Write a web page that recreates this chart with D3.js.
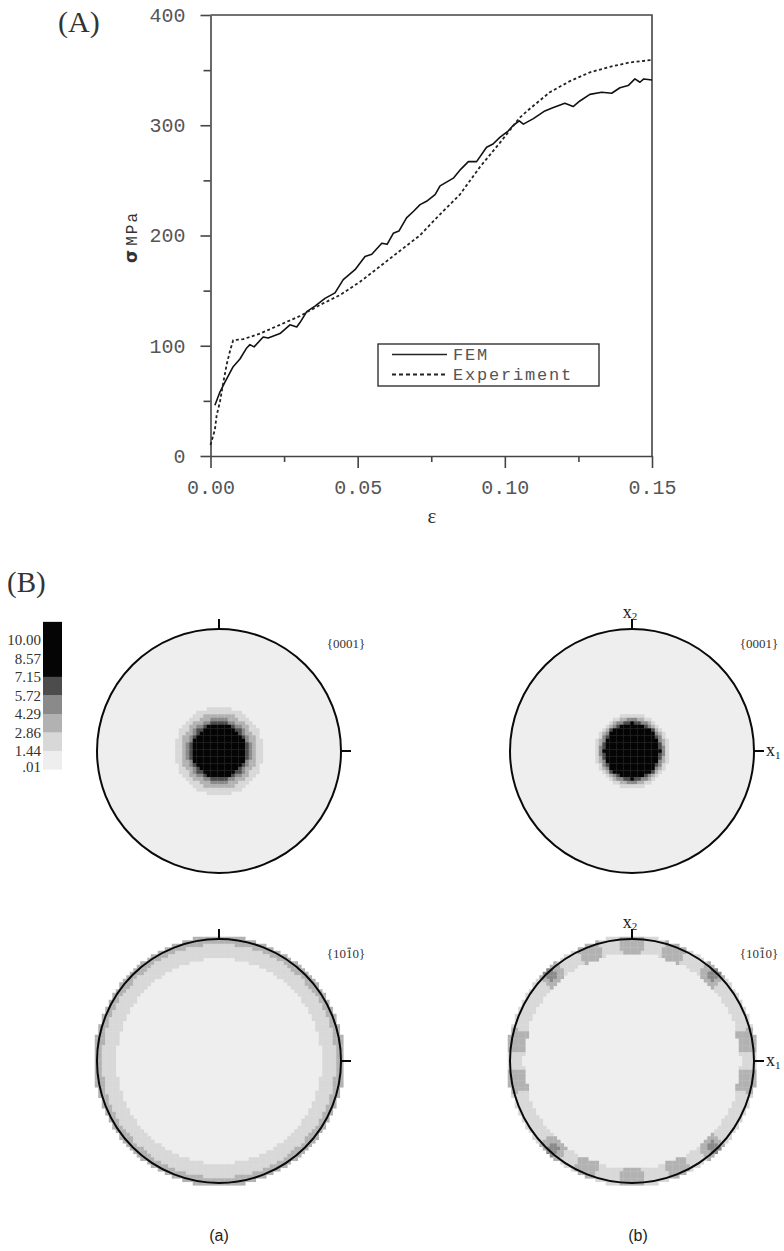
<!DOCTYPE html>
<html><head><meta charset="utf-8">
<script src="https://cdn.jsdelivr.net/npm/d3@7"></script>
<style>body{margin:0;background:#fff} svg{display:block}</style>
</head><body><svg id="c" width="784" height="1251"></svg>
<script>
// ---------- (A) stress-strain data ----------
const femStrain = [0.0015,0.0032,0.0049,0.0077,0.0100,0.0123,0.0134,0.0148,0.0179,0.0196,0.0236,0.0270,0.0293,0.0304,0.0327,0.0355,0.0389,0.0423,0.0451,0.0491,0.0525,0.0548,0.0582,0.0600,0.0621,0.0640,0.0666,0.0690,0.0712,0.0734,0.0763,0.0780,0.0825,0.0850,0.0876,0.0904,0.0938,0.0960,0.0983,0.1012,0.1029,0.1049,0.1063,0.1097,0.1136,0.1165,0.1204,0.1232,0.1255,0.1289,0.1329,0.1363,0.1391,0.1419,0.1442,0.1459,0.1472,0.1500];
const femStress = [46,58,67,81,88,98,101,99,108,107,111,119,117,121,131,136,143,148,160,169,181,183,193,192,202,204,216,222,228,231,237,245,252,260,267,267,280,283,289,295,300,304,301,306,313,316,320,317,322,328,330,329,334,336,342,339,342,341];
const expStrain = [0.0000,0.0015,0.0021,0.0032,0.0043,0.0055,0.0066,0.0077,0.0111,0.0168,0.0236,0.0304,0.0372,0.0440,0.0508,0.0576,0.0643,0.0711,0.0779,0.0847,0.0915,0.0983,0.1051,0.1085,0.1153,0.1221,0.1289,0.1357,0.1425,0.1493,0.1500];
const expStress = [10,24,37,49,66,83,95,105,106,111,119,127,137,146,158,172,186,200,219,237,262,284,307,315,330,340,348,353,357,359,359];
const yTickValues = [0,100,200,300,400];
const yMinorValues = [50,150,250,350];
const xTickValues = [0,0.05,0.10,0.15];
const xMinorValues = [0.025,0.075,0.125];
const legendLabels = ["FEM","Experiment"];

// ---------- (B) pole figure data ----------
const cbLabels = ["10.00","8.57","7.15","5.72","4.29","2.86","1.44",".01"];
const cbValues = [10.00,8.57,7.15,5.72,4.29,2.86,1.44,0.01];
const cbBounds = [0,1.44,2.86,4.29,5.72,7.15,11.4];
const levelThresholds = [1.44,2.86,4.29,5.72,7.15];
const levelGreys = ["#eeeeee","#d8d8d8","#b2b2b2","#8a8a8a","#4c4c4c","#050505"];
// radial profiles: breaks (fraction of radius) and intensity values
const pfA0001Breaks = [0.22,0.245,0.27,0.31,0.36];
const pfA0001Values = [11,6.5,5,3.5,2,0.8];
const pfB0001Breaks = [0.23,0.245,0.26,0.28,0.30];
const pfB0001Values = [11,6.5,5,3.5,2,0.8];
const pfA1010Breaks = [0.84,0.955];
const pfA1010Values = [0.8,2,3.5];
const pfB1010Breaks = [0.89];
const pfB1010Values = [0.8,2];
const pfB1010SpotAngles = [-10,10,47,69,90,111,133,170,190,228,247,270,293,313];
const pfB1010SpotValues = [3.5,3.5,5,3.5,3.5,3.5,5,3.5,3.5,5,3.5,3.5,3.5,5];
const poleTitles = ["{0001}","{0001}","{1010}","{1010}"];
const columnLabels = ["(a)","(b)"];

const svg = d3.select("#c");
svg.append("rect").attr("width",784).attr("height",1251).attr("fill","#fff");

// ================= (A) =================
const x = d3.scaleLinear().domain([0,0.15]).range([210.5,652]);
const y = d3.scaleLinear().domain([0,400]).range([456,15]);
const mono = "'Liberation Mono','DejaVu Sans Mono',monospace";
const serif = "'Liberation Serif','DejaVu Serif',serif";
const axisCol = "#444";

function styleAxis(g){
  g.selectAll(".domain").attr("stroke",axisCol).attr("stroke-width",1.6);
  g.selectAll(".tick line").attr("stroke",axisCol).attr("stroke-width",1.6);
  g.selectAll("text").attr("font-family",mono).attr("font-size",20).attr("fill","#555");
}
const gy = svg.append("g").attr("transform","translate(210.5,0)")
  .call(d3.axisLeft(y).tickValues(yTickValues).tickSize(10).tickSizeOuter(0).tickPadding(15).tickFormat(d3.format("d")));
styleAxis(gy);
const gyMin = svg.append("g").attr("transform","translate(210.5,0)")
  .call(d3.axisLeft(y).tickValues(yMinorValues).tickSize(7).tickFormat(""));
gyMin.select(".domain").remove(); styleAxis(gyMin);

const gx = svg.append("g").attr("transform","translate(0,456)")
  .call(d3.axisBottom(x).tickValues(xTickValues).tickSize(12).tickSizeOuter(0).tickPadding(12).tickFormat(d3.format(".2f")));
styleAxis(gx);
const gxMin = svg.append("g").attr("transform","translate(0,456)")
  .call(d3.axisBottom(x).tickValues(xMinorValues).tickSize(6).tickFormat(""));
gxMin.select(".domain").remove(); styleAxis(gxMin);

// top & right frame
svg.append("path").attr("d",`M${x(0)},${y(400)}H${x(0.15)}V${y(0)}`)
  .attr("fill","none").attr("stroke",axisCol).attr("stroke-width",1.6);

// curves
const line = d3.line().x(d=>x(d[0])).y(d=>y(d[1]));
svg.append("path").datum(d3.zip(femStrain,femStress)).attr("d",line)
  .attr("fill","none").attr("stroke","#111").attr("stroke-width",1.6).attr("stroke-linejoin","round");
svg.append("path").datum(d3.zip(expStrain,expStress)).attr("d",line)
  .attr("fill","none").attr("stroke","#222").attr("stroke-width",1.8).attr("stroke-dasharray","3,2.5");

// legend
const lg = svg.append("g");
lg.append("rect").attr("x",378).attr("y",344).attr("width",221).attr("height",42)
  .attr("fill","#fff").attr("stroke","#333").attr("stroke-width",1.4);
legendLabels.forEach((lab,i)=>{
  const yy = 354.5 + i*20;
  lg.append("line").attr("x1",392).attr("x2",447).attr("y1",yy).attr("y2",yy)
    .attr("stroke","#222").attr("stroke-width",i?1.8:1.6).attr("stroke-dasharray",i?"4,3":null);
  lg.append("text").attr("x",453).attr("y",yy).attr("dy","0.35em").text(lab)
    .attr("font-family",mono).attr("font-size",17).attr("letter-spacing",1.8).attr("fill","#555");
});

// axis titles
svg.append("text").attr("x",432).attr("y",523).attr("text-anchor","middle")
  .attr("font-family",serif).attr("font-size",21).attr("fill","#333").text("ε");
const yl = svg.append("text").attr("transform","translate(137,237) rotate(-90)")
  .attr("text-anchor","middle").attr("fill","#333");
yl.append("tspan").attr("font-family","'DejaVu Sans',sans-serif").attr("font-size",17).attr("font-weight","bold").text("σ");
yl.append("tspan").attr("font-family",mono).attr("font-size",16).attr("letter-spacing",2).attr("dx",4).text("MPa");

svg.append("text").attr("x",58).attr("y",32).attr("font-family",serif).attr("font-size",30).attr("fill","#333").text("(A)");
svg.append("text").attr("x",7).attr("y",592).attr("font-family",serif).attr("font-size",29).attr("fill","#333").text("(B)");

// ================= (B) =================
const color = d3.scaleThreshold().domain(levelThresholds).range(levelGreys);

// colour bar
const cbY = d3.scaleLinear().domain([0,10]).range([769.6,640]);
const cb = svg.append("g");
cb.selectAll("rect").data(d3.pairs(cbBounds)).join("rect")
  .attr("x",43).attr("width",19)
  .attr("y",d=>cbY(d[1])).attr("height",d=>cbY(d[0])-cbY(d[1]))
  .attr("fill",d=>color((d[0]+d[1])/2));
cb.selectAll("text").data(cbValues).join("text")
  .attr("x",41).attr("y",(d,i)=>cbY(d)+(i===cbValues.length-1?-3:0)).attr("dy","0.35em")
  .attr("text-anchor","end").attr("font-family",serif).attr("font-size",15).attr("fill","#333")
  .text((d,i)=>cbLabels[i]);

const R = 122, cell = 3.5;
const figs = [
  {cx:219, cy:751, breaks:pfA0001Breaks, values:pfA0001Values, title:0, axisLabels:false},
  {cx:632, cy:751, breaks:pfB0001Breaks, values:pfB0001Values, title:1, axisLabels:true},
  {cx:219, cy:1061, breaks:pfA1010Breaks, values:pfA1010Values, title:2, axisLabels:false},
  {cx:632, cy:1061, breaks:pfB1010Breaks, values:pfB1010Values, title:3, axisLabels:true,
   spots:d3.zip(pfB1010SpotAngles,pfB1010SpotValues)}
];

function cellsFor(f){
  const n = Math.ceil((R+6)/cell);
  const out = [];
  for(let i=-n;i<=n;i++) for(let j=-n;j<=n;j++){
    const dx=i*cell, dy=j*cell, r=Math.hypot(dx,dy)/R;
    if(r>1.025) continue;
    let v = f.values[d3.bisectRight(f.breaks,r)];
    if(f.spots && r>=0.88){
      const ang = Math.atan2(-dy,dx)*180/Math.PI;
      f.spots.forEach(([a,sv])=>{
        let d = Math.abs(((ang-a)%360+540)%360-180);
        if(d<=5.5) v = Math.max(v, d<=2.5 && r>=0.93 ? sv : 3.5);
      });
    }
    if(v>=levelThresholds[0]) out.push({x:f.cx+dx,y:f.cy+dy,v});
  }
  return out;
}

figs.forEach(f=>{
  const g = svg.append("g");
  g.append("circle").attr("cx",f.cx).attr("cy",f.cy).attr("r",R).attr("fill",color(0.8));
  g.selectAll("rect").data(cellsFor(f)).join("rect")
    .attr("x",d=>d.x-cell/2).attr("y",d=>d.y-cell/2)
    .attr("width",cell+0.3).attr("height",cell+0.3)
    .attr("fill",d=>color(d.v));
  g.append("circle").attr("cx",f.cx).attr("cy",f.cy).attr("r",R)
    .attr("fill","none").attr("stroke","#0a0a0a").attr("stroke-width",2);
  g.append("line").attr("x1",f.cx).attr("x2",f.cx).attr("y1",f.cy-R-10).attr("y2",f.cy-R)
    .attr("stroke","#0a0a0a").attr("stroke-width",2);
  g.append("line").attr("x1",f.cx+R).attr("x2",f.cx+R+10).attr("y1",f.cy).attr("y2",f.cy)
    .attr("stroke","#0a0a0a").attr("stroke-width",2);
  // title
  const t = g.append("text").attr("x",f.cx+127).attr("y",f.cy-103).attr("text-anchor","middle")
    .attr("font-family",serif).attr("font-size",13).attr("fill","#333").text(poleTitles[f.title]);
  if(f.title>=2){
    const ext = t.node().getExtentOfChar(3);
    g.append("line").attr("x1",ext.x+1.5).attr("x2",ext.x+ext.width-1.5)
      .attr("y1",ext.y+2.2).attr("y2",ext.y+2.2).attr("stroke","#333").attr("stroke-width",1);
  }
  if(f.axisLabels){
    const t2 = g.append("text").attr("x",f.cx-2).attr("y",f.cy-R-11).attr("text-anchor","middle")
      .attr("font-family",serif).attr("fill","#222");
    t2.append("tspan").attr("font-size",18).text("x");
    t2.append("tspan").attr("font-size",11).attr("dy",2).text("2");
    const t1 = g.append("text").attr("x",f.cx+R+12).attr("y",f.cy+5)
      .attr("font-family",serif).attr("fill","#222");
    t1.append("tspan").attr("font-size",18).text("x");
    t1.append("tspan").attr("font-size",11).attr("dy",3).text("1");
  }
});

columnLabels.forEach((lab,i)=>{
  svg.append("text").attr("x",i?638:219).attr("y",1241).attr("text-anchor","middle")
    .attr("font-family","'Liberation Sans',Arial,sans-serif").attr("font-size",16).attr("fill","#222").text(lab);
});
</script></body></html>
